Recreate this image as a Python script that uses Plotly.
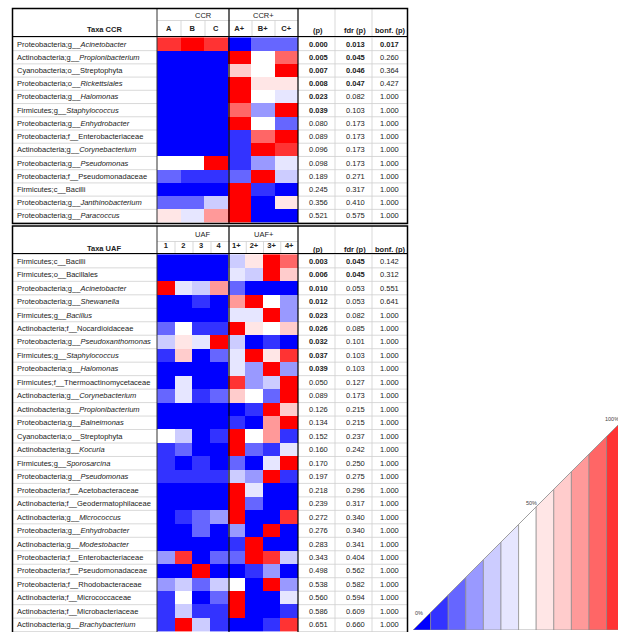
import plotly.graph_objects as go

# ---------------- data ----------------
ccr_taxa = [
    "Proteobacteria;g__Acinetobacter", "Actinobacteria;g__Propionibacterium",
    "Cyanobacteria;o__Streptophyta", "Proteobacteria;o__Rickettsiales",
    "Proteobacteria;g__Halomonas", "Firmicutes;g__Staphylococcus",
    "Proteobacteria;g__Enhydrobacter", "Proteobacteria;f__Enterobacteriaceae",
    "Actinobacteria;g__Corynebacterium", "Proteobacteria;g__Pseudomonas",
    "Proteobacteria;f__Pseudomonadaceae", "Firmicutes;c__Bacilli",
    "Proteobacteria;g__Janthinobacterium", "Proteobacteria;g__Paracoccus",
]
ccr_cols = ["A", "B", "C", "A+", "B+", "C+"]
ccr_groups = ["CCR", "CCR+"]
# relative abundance (% of row range)
ccr_pct = [
    [92, 100, 92, 0, 17, 17],
    [0, 0, 0, 100, 50, 83],
    [0, 0, 0, 67, 50, 100],
    [0, 0, 0, 100, 58, 58],
    [0, 0, 0, 100, 50, 42],
    [0, 0, 0, 83, 25, 100],
    [0, 0, 0, 100, 50, 17],
    [0, 0, 0, 8, 83, 100],
    [0, 0, 0, 8, 100, 92],
    [50, 50, 100, 8, 25, 42],
    [17, 8, 8, 17, 100, 33],
    [0, 0, 0, 100, 8, 0],
    [17, 17, 33, 100, 0, 58],
    [58, 42, 75, 100, 0, 0],
]
ccr_p = [0.000, 0.005, 0.007, 0.008, 0.023, 0.039, 0.080, 0.089, 0.096, 0.098, 0.189, 0.245, 0.356, 0.521]
ccr_fdr = [0.013, 0.045, 0.046, 0.047, 0.082, 0.103, 0.173, 0.173, 0.173, 0.173, 0.271, 0.317, 0.410, 0.575]
ccr_bonf = [0.017, 0.260, 0.364, 0.427, 1.000, 1.000, 1.000, 1.000, 1.000, 1.000, 1.000, 1.000, 1.000, 1.000]

uaf_taxa = [
    "Firmicutes;c__Bacilli", "Firmicutes;o__Bacillales",
    "Proteobacteria;g__Acinetobacter", "Proteobacteria;g__Shewanella",
    "Firmicutes;g__Bacillus", "Actinobacteria;f__Nocardioidaceae",
    "Proteobacteria;g__Pseudoxanthomonas", "Firmicutes;g__Staphylococcus",
    "Proteobacteria;g__Halomonas", "Firmicutes;f__Thermoactinomycetaceae",
    "Actinobacteria;g__Corynebacterium", "Actinobacteria;g__Propionibacterium",
    "Proteobacteria;g__Balneimonas", "Cyanobacteria;o__Streptophyta",
    "Actinobacteria;g__Kocuria", "Firmicutes;g__Sporosarcina",
    "Proteobacteria;g__Pseudomonas", "Proteobacteria;f__Acetobacteraceae",
    "Actinobacteria;f__Geodermatophilaceae", "Actinobacteria;g__Micrococcus",
    "Proteobacteria;g__Enhydrobacter", "Actinobacteria;g__Modestobacter",
    "Proteobacteria;f__Enterobacteriaceae", "Proteobacteria;f__Pseudomonadaceae",
    "Proteobacteria;f__Rhodobacteraceae", "Actinobacteria;f__Micrococcaceae",
    "Actinobacteria;f__Microbacteriaceae", "Actinobacteria;g__Brachybacterium",
]
uaf_cols = ["1", "2", "3", "4", "1+", "2+", "3+", "4+"]
uaf_groups = ["UAF", "UAF+"]
uaf_pct = [
    [0, 0, 0, 0, 33, 58, 100, 83],
    [0, 0, 0, 0, 42, 33, 100, 67],
    [100, 42, 33, 75, 17, 0, 0, 0],
    [0, 0, 8, 0, 75, 100, 50, 25],
    [0, 0, 0, 0, 42, 42, 100, 25],
    [17, 50, 8, 8, 100, 58, 50, 67],
    [33, 58, 42, 100, 33, 0, 8, 0],
    [8, 67, 0, 17, 42, 100, 58, 92],
    [0, 0, 0, 0, 42, 25, 100, 25],
    [0, 42, 0, 0, 92, 25, 33, 100],
    [17, 42, 8, 17, 67, 50, 17, 100],
    [0, 0, 0, 0, 0, 8, 100, 67],
    [0, 0, 0, 0, 8, 0, 75, 100],
    [50, 33, 0, 8, 100, 50, 75, 8],
    [8, 17, 0, 0, 100, 17, 8, 42],
    [8, 0, 8, 0, 17, 0, 42, 100],
    [8, 8, 8, 8, 33, 25, 100, 8],
    [0, 0, 0, 0, 100, 42, 0, 0],
    [0, 0, 0, 0, 100, 17, 0, 0],
    [0, 8, 17, 25, 100, 0, 0, 92],
    [0, 0, 17, 0, 25, 0, 100, 0],
    [0, 0, 0, 0, 8, 100, 0, 0],
    [25, 92, 0, 17, 17, 100, 92, 33],
    [0, 0, 100, 0, 0, 8, 25, 0],
    [25, 33, 17, 33, 50, 0, 100, 25],
    [8, 50, 0, 17, 100, 0, 0, 42],
    [8, 33, 8, 8, 100, 0, 0, 8],
    [8, 100, 33, 8, 0, 0, 8, 92],
]
uaf_p = [0.003, 0.006, 0.010, 0.012, 0.023, 0.026, 0.032, 0.037, 0.039, 0.050, 0.089, 0.126, 0.134, 0.152,
         0.160, 0.170, 0.197, 0.218, 0.239, 0.272, 0.276, 0.283, 0.343, 0.498, 0.538, 0.560, 0.586, 0.651]
uaf_fdr = [0.045, 0.045, 0.053, 0.053, 0.082, 0.085, 0.101, 0.103, 0.103, 0.127, 0.173, 0.215, 0.215, 0.237,
           0.242, 0.250, 0.275, 0.296, 0.317, 0.340, 0.340, 0.341, 0.404, 0.562, 0.582, 0.594, 0.609, 0.660]
uaf_bonf = [0.142, 0.312, 0.551, 0.641] + [1.000] * 24

stat_headers = ["(p)", "fdr (p)", "bonf. (p)"]
legend_pct = [0, 8, 17, 25, 33, 42, 50, 58, 67, 75, 83, 92, 100]
legend_labels = ["0%", "50%", "100%"]
key_colors = ["#0000ff", "#3333ff", "#6666ff", "#9999ff", "#ccccff", "#e6e6ff", "#ffffff",
              "#ffe6e6", "#ffcccc", "#ff9999", "#ff6666", "#ff3333", "#ff0000"]
italic_extra = {"Rickettsiales"}

# ---------------- geometry (pixels) ----------------
W, H = 618, 632
def px(x): return x / W
def py(y): return 1 - y / H

FONT = "Liberation Sans, Arial, sans-serif"
FS = 7.5
TXT = "#222222"
GRAY = "#cfcfcf"

X_LEFT, X_TAXA, X_MID, X_HM, X_P, X_FDR, X_RIGHT = 12.5, 157, 229, 298, 335, 372, 407.5
tables = [
    dict(taxa=ccr_taxa, cols=ccr_cols, groups=ccr_groups, z=ccr_pct, p=ccr_p, fdr=ccr_fdr, bonf=ccr_bonf,
         title="Taxa CCR", top=8.5, sub=20.5, hdr=36.5, bottom=223, ax="", frame_bottom=223.5),
    dict(taxa=uaf_taxa, cols=uaf_cols, groups=uaf_groups, z=uaf_pct, p=uaf_p, fdr=uaf_fdr, bonf=uaf_bonf,
         title="Taxa UAF", top=226, sub=241.5, hdr=253.5, bottom=632, ax="2", frame_bottom=640),
]

cs = []
n = len(key_colors)
for i, c in enumerate(key_colors):
    cs.append([i / n, c])
    cs.append([(i + 1) / n, c])

def fmt_taxon(name):
    pre, rest = name.split("__", 1)
    if pre.endswith("g") or rest in italic_extra:
        return f"{pre}__<i>{rest}</i>"
    return f"{pre}__{rest}"

def fmt_num(v):
    s = f"{v:.3f}"
    return f"<b>{s}</b>" if v < 0.05 else s

fig = go.Figure()
annotations = []
shapes = []

def hline(y, x0, x1, color, w, yref="paper"):
    shapes.append(dict(type="line", xref="paper", yref=yref, x0=px(x0), x1=px(x1),
                       y0=y, y1=y, line=dict(color=color, width=w), layer="above"))

def vline(x, y0, y1, color, w):
    shapes.append(dict(type="line", xref="paper", yref="paper", x0=px(x), x1=px(x),
                       y0=py(y0), y1=py(y1), line=dict(color=color, width=w), layer="above"))

layout_axes = {}
for t in tables:
    ax = t["ax"]
    xa, ya = "x" + ax, "y" + ax
    fig.add_trace(go.Heatmap(z=t["z"], x=t["cols"], y=t["taxa"], colorscale=cs, zmin=0, zmax=100,
                             showscale=False, xaxis=xa, yaxis=ya, hoverinfo="skip", xgap=0, ygap=0))
    layout_axes["xaxis" + ax] = dict(domain=[px(X_TAXA), px(X_HM)], anchor=ya, side="top", type="category",
                                     showgrid=False, zeroline=False, showline=False, ticks="",
                                     ticklabelstandoff=4,
                                     tickvals=t["cols"], ticktext=[f"<b>{c}</b>" for c in t["cols"]],
                                     tickfont=dict(family=FONT, size=FS, color=TXT))
    layout_axes["yaxis" + ax] = dict(domain=[max(py(t["bottom"]), 0), py(t["hdr"] + 0.5)], anchor=xa,
                                     type="category", autorange="reversed", showgrid=False,
                                     zeroline=False, showline=False, showticklabels=False, ticks="")
    nrow = len(t["taxa"])
    for i in range(nrow):
        annotations.append(dict(xref="paper", yref=ya, x=px(15), y=i, xanchor="left", yanchor="middle",
                                text=fmt_taxon(t["taxa"][i]), showarrow=False,
                                font=dict(family=FONT, size=FS, color=TXT)))
        for xc, vals in zip([(X_HM + X_P) / 2 + 1.5, (X_P + X_FDR) / 2 + 1.5, (X_FDR + X_RIGHT) / 2],
                            [t["p"], t["fdr"], t["bonf"]]):
            annotations.append(dict(xref="paper", yref=ya, x=px(xc), y=i, xanchor="center", yanchor="middle",
                                    text=fmt_num(vals[i]), showarrow=False,
                                    font=dict(family=FONT, size=FS, color=TXT)))
    # row separators
    for i in range(nrow + 1):
        hline(i - 0.5, X_LEFT, X_TAXA, GRAY, 0.8, yref=ya)
        hline(i - 0.5, X_HM, X_RIGHT, GRAY, 0.8, yref=ya)
    # header texts
    yh = (t["sub"] + t["hdr"]) / 2 + 1
    annotations.append(dict(xref="paper", yref="paper", x=px((X_LEFT + X_TAXA) / 2), y=py(yh),
                            text=f"<b>{t['title']}</b>", showarrow=False, yanchor="middle",
                            font=dict(family=FONT, size=FS, color=TXT)))
    for xc, s in zip([(X_HM + X_P) / 2 + 1.5, (X_P + X_FDR) / 2 + 1.5, (X_FDR + X_RIGHT) / 2], stat_headers):
        annotations.append(dict(xref="paper", yref="paper", x=px(xc), y=py(yh + 1), text=f"<b>{s}</b>",
                                showarrow=False, yanchor="middle", font=dict(family=FONT, size=FS, color=TXT)))
    yg = (t["top"] + t["sub"]) / 2 + 0.5
    for gx, g in zip([(X_TAXA + X_MID) / 2, (X_MID + X_HM) / 2], t["groups"]):
        annotations.append(dict(xref="paper", yref="paper", x=px(gx), y=py(yg), text=g, showarrow=False,
                                yanchor="middle", font=dict(family=FONT, size=FS, color=TXT)))
    # header grid
    hline(py(t["sub"]), X_TAXA, X_HM, GRAY, 0.8)
    k = len(t["cols"]) // 2
    for j in range(1, k):
        vline(X_TAXA + (X_MID - X_TAXA) * j / k, t["sub"], t["hdr"], GRAY, 0.8)
        vline(X_MID + (X_HM - X_MID) * j / k, t["sub"], t["hdr"], GRAY, 0.8)
    vline(X_P, t["top"], t["frame_bottom"], GRAY, 0.8)
    vline(X_FDR, t["top"], t["frame_bottom"], GRAY, 0.8)
    # black structure lines
    vline(X_TAXA, t["top"], t["frame_bottom"], "#333333", 1)
    vline(X_MID, t["top"], t["frame_bottom"], "#000000", 1.2)
    vline(X_HM, t["top"], t["frame_bottom"], "#000000", 1.2)
    hline(py(t["hdr"]), X_LEFT, X_RIGHT, "#000000", 1.2)
    shapes.append(dict(type="rect", xref="paper", yref="paper", x0=px(X_LEFT), x1=px(X_RIGHT),
                       y0=py(t["frame_bottom"]), y1=py(t["top"]), line=dict(color="#000000", width=1.5),
                       layer="above"))

# ---------------- colour key (staircase triangle) ----------------
seg = 17.6
key_x0, key_y0 = 413, 630
xr = (W - key_x0) / seg
yr_top = 400
layout_axes["xaxis3"] = dict(domain=[px(key_x0), 1], range=[0, xr], anchor="y3", visible=False)
layout_axes["yaxis3"] = dict(domain=[py(key_y0), py(yr_top)], range=[0, (key_y0 - yr_top) / seg],
                             anchor="x3", visible=False)
for k, (v, c) in enumerate(zip(legend_pct, key_colors)):
    fig.add_trace(go.Scatter(x=[k, k, k + 1, k + 1, k], y=[0, k, k + 1, 0, 0], mode="lines", fill="toself",
                             fillcolor=c, line=dict(color="#8c8c8c", width=0.7), xaxis="x3", yaxis="y3",
                             hoverinfo="skip", showlegend=False))
fig.add_trace(go.Scatter(x=[0, len(legend_pct)], y=[0, len(legend_pct)], mode="lines",
                         line=dict(color="#9a9a9a", width=0.8), xaxis="x3", yaxis="y3",
                         hoverinfo="skip", showlegend=False))
for lbl, (lx, ly) in zip(legend_labels, [(419, 613), (531, 503), (612, 419)]):
    annotations.append(dict(xref="paper", yref="paper", x=px(lx), y=py(ly), text=lbl, showarrow=False,
                            xanchor="center", yanchor="middle",
                            font=dict(family=FONT, size=5.5, color="#444444")))

fig.update_layout(width=W, height=H, margin=dict(l=0, r=0, t=0, b=0), paper_bgcolor="white",
                  plot_bgcolor="rgba(0,0,0,0)", showlegend=False, annotations=annotations, shapes=shapes,
                  **layout_axes)
fig.write_html("out.html", config={"displayModeBar": False},
               post_script="document.body.style.margin='0px';")
